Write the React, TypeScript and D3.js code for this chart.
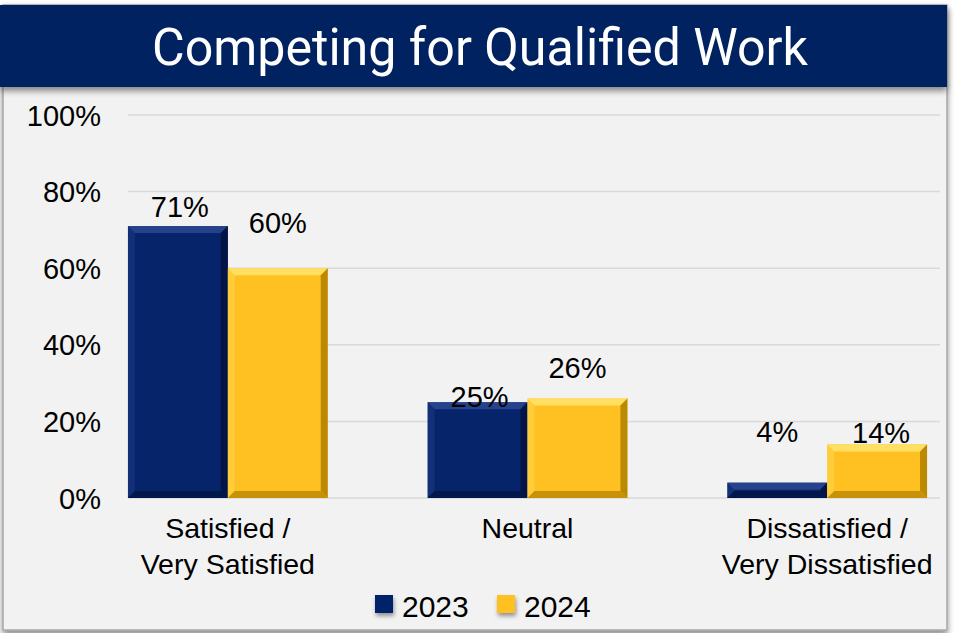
import React, { useEffect, useRef } from 'react';
import * as d3 from 'd3';

const categories = ["Satisfied / Very Satisfied", "Neutral", "Dissatisfied / Very Dissatisfied"];
const categoryLines = [["Satisfied /", "Very Satisfied"], ["Neutral"], ["Dissatisfied /", "Very Dissatisfied"]];
const seriesNames = ["2023", "2024"];
const values2023 = [71, 25, 4];
const values2024 = [60, 26, 14];
const yTicks = [0, 20, 40, 60, 80, 100];

const colors: Record<string, { face: string; light: string; dark: string }> = {
  "2023": { face: "#06246a", light: "#2a4690", dark: "#021443" },
  "2024": { face: "#ffc021", light: "#ffe36a", dark: "#b58300" },
};

// label nudges to follow the original's data label placement (dx, baseline dy from bar top)
const labelNudge: Record<string, [number, number][]> = {
  "2023": [[2, -9], [2, 5], [0, -41]],
  "2024": [[0, -35], [0, -20], [4, -1]],
};

const FONT = "'Liberation Sans', Arial, sans-serif";

const App: React.FC = () => {
  const ref = useRef<SVGSVGElement | null>(null);

  useEffect(() => {
    if (!ref.current) return;
    const width = 956;
    const height = 633;
    const svg = d3.select(ref.current).attr("width", width).attr("height", height);
    svg.selectAll("*").remove();

    const defs = svg.append("defs");
    const shadow = defs.append("filter").attr("id", "shadow").attr("x", "-10%").attr("y", "-10%").attr("width", "120%").attr("height", "140%");
    shadow.append("feDropShadow").attr("dx", 0).attr("dy", 4).attr("stdDeviation", 3).attr("flood-color", "#000").attr("flood-opacity", 0.45);
    const sqShadow = defs.append("filter").attr("id", "sqshadow").attr("x", "-50%").attr("y", "-50%").attr("width", "200%").attr("height", "200%");
    sqShadow.append("feDropShadow").attr("dx", 1).attr("dy", 3).attr("stdDeviation", 2).attr("flood-color", "#000").attr("flood-opacity", 0.4);

    // panel
    svg.append("rect").attr("x", 0).attr("y", 0).attr("width", width).attr("height", height).attr("fill", "#ffffff");
    svg.append("rect").attr("x", 3).attr("y", 5).attr("width", 944).attr("height", 625)
      .attr("fill", "#f2f2f2").attr("stroke", "#a6a6a6").attr("stroke-width", 1.5).attr("filter", "url(#shadow)");

    // title banner
    svg.append("rect").attr("x", 0).attr("y", 5).attr("width", 947).attr("height", 82)
      .attr("fill", "#002060").attr("filter", "url(#shadow)");
    svg.append("text")
      .attr("x", 480).attr("y", 65)
      .attr("text-anchor", "middle")
      .attr("font-family", "'Liberation Sans Narrow', 'Roboto', 'Liberation Sans', sans-serif")
      .attr("font-size", 52)
      .attr("fill", "#ffffff")
      .attr("textLength", 656)
      .attr("lengthAdjust", "spacingAndGlyphs")
      .text("Competing for Qualified Work");

    const y = d3.scaleLinear().domain([0, 100]).range([498, 115]);
    const x0 = d3.scaleBand().domain(categories).range([78, 977]).padding(0);
    const x1 = d3.scaleBand().domain(seriesNames).range([0, x0.bandwidth()]).paddingInner(0).paddingOuter(0.5);

    // gridlines
    svg.append("g").selectAll("line").data(yTicks).enter().append("line")
      .attr("x1", 128).attr("x2", 940)
      .attr("y1", d => y(d)).attr("y2", d => y(d))
      .attr("stroke", "#d9d9d9").attr("stroke-width", 1.5);

    // y labels
    svg.append("g").selectAll("text").data(yTicks).enter().append("text")
      .attr("x", 101).attr("y", d => y(d) + 10.5)
      .attr("text-anchor", "end")
      .attr("font-family", FONT)
      .attr("font-size", 29).attr("fill", "#000")
      .text(d => `${d}%`);

    const seriesData: Record<string, number[]> = { "2023": values2023, "2024": values2024 };

    const bevel = 7;
    seriesNames.forEach(s => {
      const c = colors[s];
      seriesData[s].forEach((v, i) => {
        const bx = (x0(categories[i]) as number) + (x1(s) as number);
        const bw = x1.bandwidth();
        const by = y(v);
        const bh = y(0) - y(v);
        const b = Math.min(bevel, bh / 2, bw / 2);
        const g = svg.append("g");
        g.append("rect").attr("x", bx).attr("y", by).attr("width", bw).attr("height", bh).attr("fill", c.face);
        const poly = (pts: [number, number][], fill: string, op: number) =>
          g.append("polygon").attr("points", pts.map(p => p.join(",")).join(" ")).attr("fill", fill).attr("opacity", op);
        poly([[bx, by], [bx + bw, by], [bx + bw - b, by + b], [bx + b, by + b]], c.light, 0.9);
        poly([[bx, by], [bx + b, by + b], [bx + b, by + bh - b], [bx, by + bh]], c.light, 0.35);
        poly([[bx + bw, by], [bx + bw, by + bh], [bx + bw - b, by + bh - b], [bx + bw - b, by + b]], c.dark, 0.9);
        poly([[bx, by + bh], [bx + bw, by + bh], [bx + bw - b, by + bh - b], [bx + b, by + bh - b]], c.dark, 0.75);

        const [dx, dy] = labelNudge[s][i];
        svg.append("text")
          .attr("x", bx + bw / 2 + dx).attr("y", by + dy)
          .attr("text-anchor", "middle")
          .attr("font-family", FONT)
          .attr("font-size", 29).attr("fill", "#000")
          .text(`${v}%`);
      });
    });

    // category labels
    categories.forEach((cat, i) => {
      const cx = (x0(cat) as number) + x0.bandwidth() / 2;
      categoryLines[i].forEach((line, j) => {
        svg.append("text")
          .attr("x", cx).attr("y", 538 + j * 36)
          .attr("text-anchor", "middle")
          .attr("font-family", FONT)
          .attr("font-size", 28.5).attr("fill", "#000")
          .text(line);
      });
    });

    // legend
    const legendX = [375, 497];
    seriesNames.forEach((s, i) => {
      svg.append("rect").attr("x", legendX[i]).attr("y", 595).attr("width", 18).attr("height", 18)
        .attr("fill", colors[s].face).attr("filter", "url(#sqshadow)");
      svg.append("text")
        .attr("x", legendX[i] + 27).attr("y", 617)
        .attr("font-family", FONT)
        .attr("font-size", 30).attr("fill", "#000")
        .text(s);
    });
  }, []);

  return <svg ref={ref} style={{ position: 'absolute', left: 0, top: 0 }}></svg>;
};

export default App;
